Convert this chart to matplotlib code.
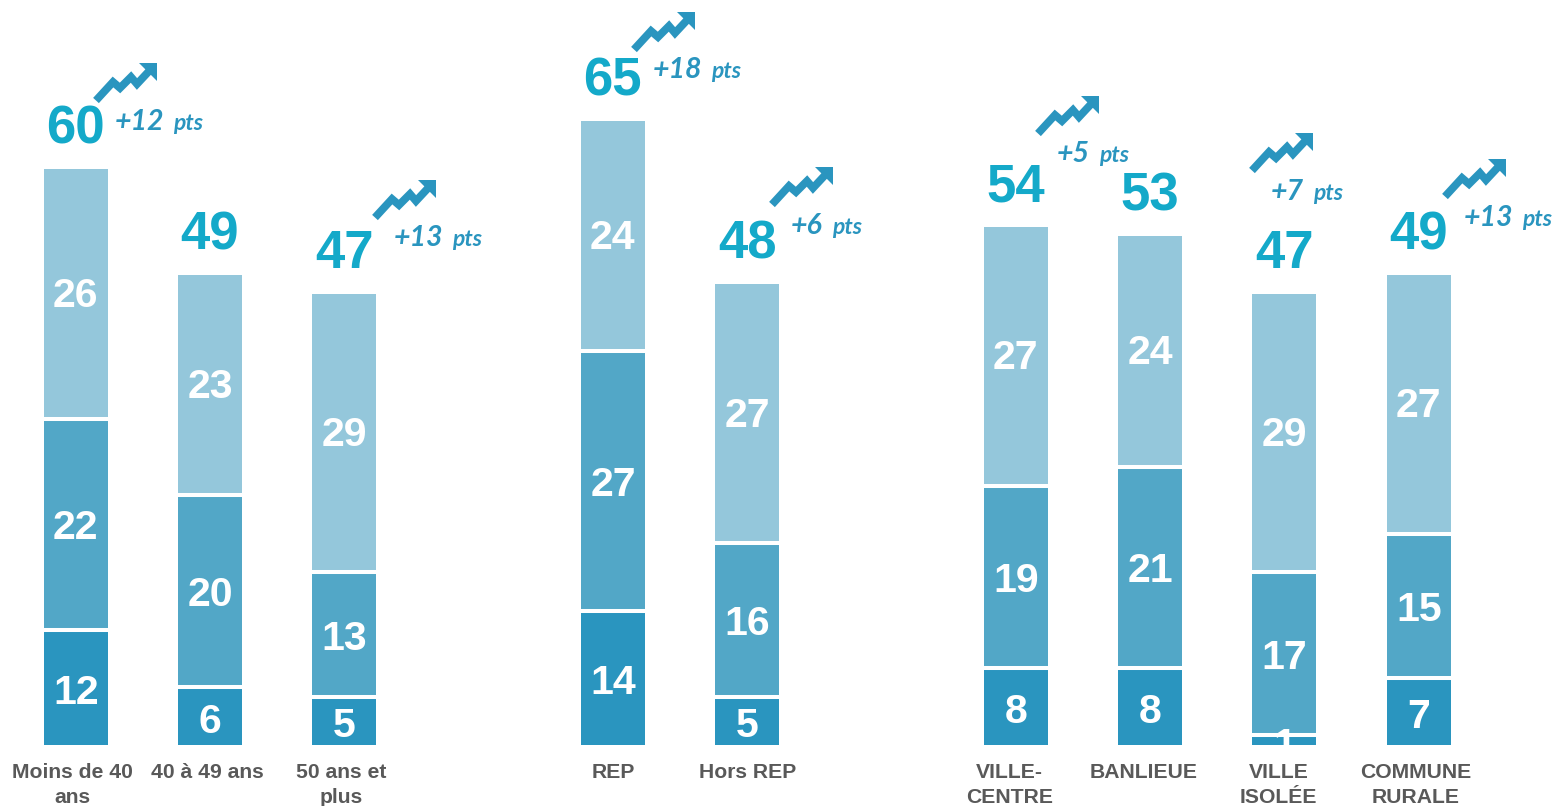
import matplotlib
matplotlib.use("Agg")
import matplotlib.pyplot as plt
from matplotlib.path import Path
from matplotlib.patches import PathPatch
from matplotlib.transforms import Affine2D

W, H = 1555, 806

categories = ["Moins de 40\nans", "40 à 49 ans", "50 ans et\nplus", "REP", "Hors REP",
              "VILLE-\nCENTRE", "BANLIEUE", "VILLE\nISOLÉE", "COMMUNE\nRURALE"]
slots = [0, 1, 2, 4, 5, 7, 8, 9, 10]
bottom_vals = [12, 6, 5, 14, 5, 8, 8, 1, 7]
middle_vals = [22, 20, 13, 27, 16, 19, 21, 17, 15]
top_vals = [26, 23, 29, 24, 27, 27, 24, 29, 27]
totals = [60, 49, 47, 65, 48, 54, 53, 47, 49]
trends = ["+12", None, "+13", "+18", "+6", "+5", None, "+7", "+13"]

# layout (pixels)
X0, PITCH, Y0, UNIT, BAR_PX = 75.7, 134.3, 745, 9.6, 64
label_x_shift = [-3, -3, -3, 0, 0, -6, -6, -6, -3]
arrow_tips = [(157, 63), None, (436, 180), (695, 12), (833, 167),
              (1099, 96), None, (1313, 133), (1506, 159)]

C_BOTTOM, C_MID, C_TOP = "#2A95BF", "#52A7C7", "#94C7DB"
C_TOTAL, C_TREND, C_LABEL = "#14A9C9", "#2A95BF", "#595959"

fig = plt.figure(figsize=(W / 100, H / 100), dpi=100)
ax = fig.add_axes([0, 0, 1, 1])
ax.set_xlim(-X0 / PITCH, (W - X0) / PITCH)
ax.set_ylim(-(H - Y0) / UNIT, Y0 / UNIT)
ax.axis("off")

bw = BAR_PX / PITCH
sans = ["Liberation Sans", "DejaVu Sans"]
cum = [0] * len(slots)
for vals, col, dy in ((bottom_vals, C_BOTTOM, -1), (middle_vals, C_MID, 0), (top_vals, C_TOP, 1.4)):
    ax.bar(slots, vals, bottom=cum, width=bw, color=col, linewidth=0)
    for s, v, b in zip(slots, vals, cum):
        ax.annotate(str(v), (s, b + v / 2), xytext=(0, dy), textcoords="offset points",
                    ha="center", va="center_baseline", color="white",
                    fontsize=29.5, fontweight="bold", family=sans, zorder=4)
    new = [c + v for c, v in zip(cum, vals)]
    if col != C_TOP:
        ax.hlines(new, [s - bw / 2 for s in slots], [s + bw / 2 for s in slots],
                  color="white", linewidth=2.9, zorder=3)
    cum = new

for s, t in zip(slots, totals):
    ax.annotate(str(t), (s, t), xytext=(0, 32.4), textcoords="offset points",
                ha="center", va="center_baseline", color=C_TOTAL, fontsize=38,
                fontweight="bold", family=sans)

for s, c, dx in zip(slots, categories, label_x_shift):
    ax.annotate(c, (s, 0), xytext=(dx * 0.72, -13), textcoords="offset points",
                ha="center", va="top", color=C_LABEL, fontsize=15.2, fontweight="bold",
                family=sans, linespacing=1.38)

# trend arrow shape, relative to arrow tip (px, y down)
line_pts = [(-61, 37.5), (-44, 19), (-37, 25), (-26, 14), (-20, 21), (-6, 6)]
head_pts = [(-18, 0), (0, 0), (0, 18), (-18, 0)]
for tip, tr in zip(arrow_tips, trends):
    if tip is None:
        continue
    tf = Affine2D().scale(1, -1).translate(tip[0], H - tip[1])
    fig.add_artist(PathPatch(Path(line_pts), fill=False, edgecolor=C_TREND, linewidth=5.6,
                             capstyle="butt", joinstyle="miter", transform=tf))
    fig.add_artist(PathPatch(Path(head_pts, closed=True), facecolor=C_TREND, edgecolor="none",
                             transform=tf))
    tx, ty = tip[0] - 42, tip[1] + 56
    t1 = fig.text(tx / W, 1 - ty / H, tr, ha="left", va="center_baseline", color=C_TREND,
                  fontsize=20.5, fontweight="bold", style="italic", family="Lato")
    bb = t1.get_window_extent(fig.canvas.get_renderer())
    fig.text((bb.x1 + 9) / W, 1 - (ty + 2) / H, "pts", ha="left", va="center_baseline",
             color=C_TREND, fontsize=16.5, fontweight="bold", style="italic", family="Lato")

fig.savefig("out.png", dpi=100)
